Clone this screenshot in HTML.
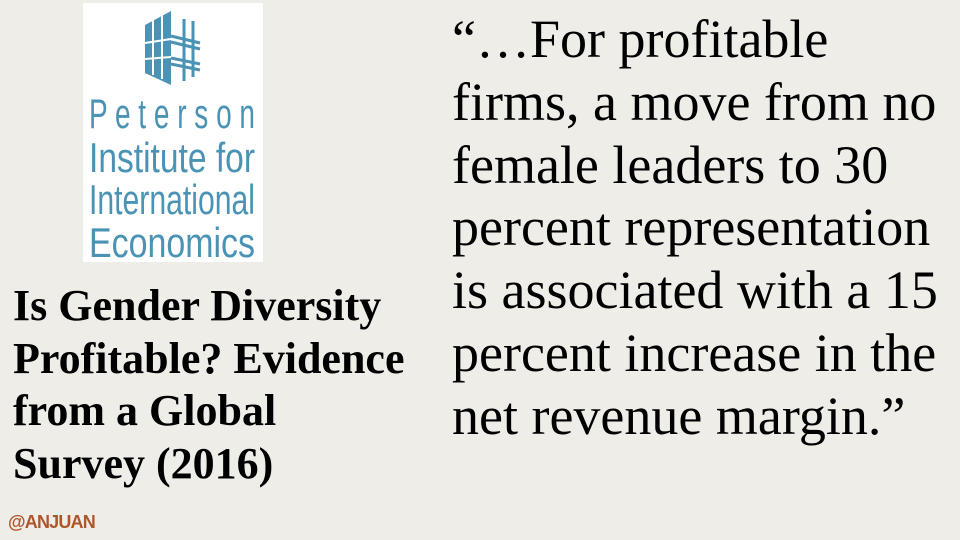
<!DOCTYPE html>
<html><head><meta charset="utf-8"><style>
body{margin:0;width:960px;height:540px;overflow:hidden;background:#efede8;position:relative;font-family:"Liberation Serif",serif}
.logo{position:absolute;left:83px;top:3px;width:180px;height:259px;background:#fff}
.title{position:absolute;left:13px;top:280px;font-weight:bold;font-size:44px;line-height:52.5px;color:#000;white-space:nowrap}
.quote{position:absolute;left:452px;top:8px;font-size:54px;line-height:62.8px;color:#000;white-space:nowrap}
.foot{position:absolute;left:8px;top:512px;font-family:"Liberation Sans",sans-serif;font-weight:bold;font-size:18px;color:#b0552a;letter-spacing:-0.8px}
</style></head><body>
<div class="logo">
<svg width="180" height="259" style="position:absolute;left:0;top:0">
<g>
<polygon points="62,22 88,8 88,82 62,70" fill="#4a93b4"/>
<line x1="70" y1="14" x2="70" y2="72" stroke="#fff" stroke-width="2"/>
<line x1="79" y1="10" x2="79" y2="76" stroke="#fff" stroke-width="2"/>
<line x1="62" y1="40" x2="88" y2="36" stroke="#fff" stroke-width="2"/>
<line x1="62" y1="56" x2="88" y2="54" stroke="#fff" stroke-width="2"/>
<line x1="101" y1="16" x2="101" y2="78" stroke="#4a93b4" stroke-width="3"/>
<line x1="110" y1="18" x2="110" y2="74" stroke="#4a93b4" stroke-width="3"/>
<line x1="88" y1="33" x2="117" y2="40" stroke="#4a93b4" stroke-width="3"/>
<line x1="88" y1="39" x2="117" y2="46" stroke="#4a93b4" stroke-width="3"/>
<line x1="88" y1="55" x2="117" y2="61" stroke="#4a93b4" stroke-width="3"/>
<line x1="88" y1="61" x2="117" y2="67" stroke="#4a93b4" stroke-width="3"/>
</g>
<g fill="#4a93b4" font-family="Liberation Sans, sans-serif" font-size="42">
<text x="6" y="125" textLength="166" lengthAdjust="spacingAndGlyphs">P e t e r s o n</text>
<text x="6" y="169" textLength="166" lengthAdjust="spacingAndGlyphs">Institute for</text>
<text x="6" y="211" textLength="166" lengthAdjust="spacingAndGlyphs">International</text>
<text x="6" y="254" textLength="166" lengthAdjust="spacingAndGlyphs">Economics</text>
</g>
</svg>
</div>
<div class="title">Is Gender Diversity<br>Profitable? Evidence<br>from a Global<br>Survey (2016)</div>
<div class="quote">“…For profitable<br>firms, a move from no<br>female leaders to 30<br>percent representation<br>is associated with a 15<br>percent increase in the<br>net revenue margin.”</div>
<div class="foot">@ANJUAN</div>
</body></html>
